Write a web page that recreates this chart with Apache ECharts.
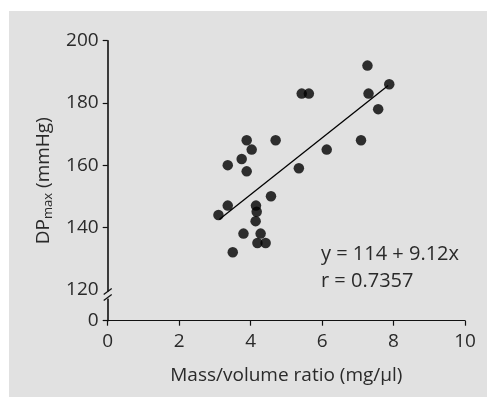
<!DOCTYPE html>
<html>
<head>
<meta charset="utf-8">
<script src="https://cdn.jsdelivr.net/npm/echarts@6/dist/echarts.min.js"></script>
<style>
  html, body { margin: 0; padding: 0; background: #fff; }
  #chart { position: absolute; left: 9px; top: 11px; width: 478px; height: 386px; background: #e1e1e1; }
</style>
</head>
<body>
<div id="chart"></div>
<script>
// measured points
const massRatio = [3.10, 3.36, 3.36, 3.50, 3.75, 3.89, 3.89, 3.80, 4.03, 4.15, 4.17, 4.14, 4.19,
  4.28, 4.42, 4.57, 4.70, 5.35, 5.43, 5.63, 6.13, 7.09, 7.27, 7.30, 7.57, 7.88]
const dpMax = [144, 147, 160, 132, 162, 168, 158, 138, 165, 147, 145, 142, 135,
  138, 135, 150, 168, 159, 183, 183, 165, 168, 192, 183, 178, 186]

// regression line ends: y = 114 + 9.12x
const fitX = [3.12, 7.85]
const fitY = [142.5, 185.6]

// y axis is broken: the bottom value stands for 0
const yBreakBase = 110
const yTicks = [110, 140, 160, 180, 200]
const yLabels = [110, 120, 140, 160, 180, 200]

const chartDom = document.getElementById('chart')
const chart = echarts.init(chartDom)

const font = 'Open Sans, Noto Sans, sans-serif'
const textColor = '#2a2a2a'

chart.setOption({
  animation: false,
  grid: {
    left: 98.7,
    right: 22,
    top: 29.7,
    bottom: 76.3
  },
  xAxis: {
    type: 'value',
    min: 0,
    max: 10,
    interval: 2,
    name: 'Mass/volume ratio (mg/µl)',
    nameLocation: 'middle',
    nameGap: 45,
    nameTextStyle: { color: textColor, fontSize: 19, fontFamily: font },
    axisLine: { onZero: false, lineStyle: { color: '#111', width: 1.2 } },
    axisTick: { show: true, inside: false, length: 5, lineStyle: { color: '#111', width: 1.2 } },
    axisLabel: { color: textColor, fontSize: 19, fontFamily: font, margin: 11 },
    splitLine: { show: false }
  },
  yAxis: {
    type: 'value',
    min: yBreakBase,
    max: 200,
    name: '{a|DP}{s|max}{a| (mmHg)}',
    nameLocation: 'middle',
    nameGap: 53,
    nameTextStyle: {
      color: textColor,
      fontFamily: font,
      rich: {
        a: { fontSize: 19, color: textColor, fontFamily: font },
        s: { fontSize: 13, color: textColor, fontFamily: font, verticalAlign: 'bottom', padding: [9, 0, 0, 0] }
      }
    },
    axisLine: { onZero: false, lineStyle: { color: '#111', width: 1.6 } },
    axisTick: {
      show: true, inside: false, length: 5, customValues: yTicks,
      lineStyle: { color: '#111', width: 1.2 }
    },
    axisLabel: {
      color: textColor, fontSize: 19, fontFamily: font, margin: 9,
      customValues: yLabels,
      formatter: (v) => (v === yBreakBase ? '0' : String(v))
    },
    splitLine: { show: false }
  },
  series: [
    {
      type: 'scatter',
      symbol: 'circle',
      symbolSize: 10.5,
      itemStyle: { color: '#000' },
      data: massRatio.map((x, i) => [x, dpMax[i]]),
      z: 3
    },
    {
      type: 'line',
      symbol: 'none',
      lineStyle: { color: '#000', width: 1.3 },
      data: fitX.map((x, i) => [x, fitY[i]]),
      z: 2
    }
  ]
})

// break marks on the y axis between 0 and 120, plus the equation text
const p120 = chart.convertToPixel({ gridIndex: 0 }, [0, 120])
const bx = p120[0]
const by = p120[1] + 4

chart.setOption({
  graphic: [
    {
      type: 'rect',
      shape: { x: bx - 3, y: by - 2, width: 6, height: 7 },
      style: { fill: '#e1e1e1' },
      z: 10
    },
    {
      type: 'line',
      shape: { x1: bx - 4, y1: by + 1, x2: bx + 4, y2: by - 5 },
      style: { stroke: '#111', lineWidth: 1.3 },
      z: 11
    },
    {
      type: 'line',
      shape: { x1: bx - 4, y1: by + 7, x2: bx + 4, y2: by + 1 },
      style: { stroke: '#111', lineWidth: 1.3 },
      z: 11
    },
    {
      type: 'text',
      left: 312,
      top: 233,
      style: { text: 'y = 114 + 9.12x', fontSize: 20, fontFamily: font, fill: textColor },
      z: 11
    },
    {
      type: 'text',
      left: 312,
      top: 260,
      style: { text: 'r = 0.7357', fontSize: 20, fontFamily: font, fill: textColor },
      z: 11
    }
  ]
})

window.addEventListener('resize', () => chart.resize())
</script>
</body>
</html>
